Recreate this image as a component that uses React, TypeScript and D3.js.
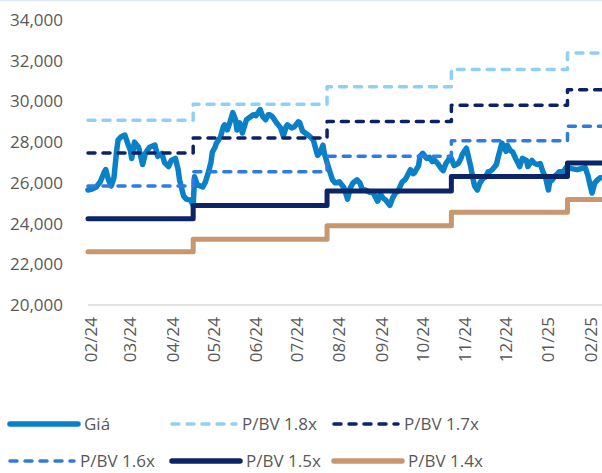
import React from "react";
import * as d3 from "d3";

const W = 602;
const H = 473;

// y axis ticks
const yTicks = [20000, 22000, 24000, 26000, 28000, 30000, 32000, 34000];

// monthly tick labels on the x axis
const monthTicks = [
  "2024-02-01", "2024-03-01", "2024-04-01", "2024-05-01", "2024-06-01", "2024-07-01",
  "2024-08-01", "2024-09-01", "2024-10-01", "2024-11-01", "2024-12-01", "2025-01-01", "2025-02-01",
];

// dates where book value (and so the P/BV bands) changes
const bandDates = ["2024-01-30", "2024-04-16", "2024-07-23", "2024-10-22", "2025-01-15"];
const bandEnd = "2025-02-10";

const pbv18 = [29079, 29862, 30726, 31572, 32373];
const pbv17 = [27464, 28203, 29019, 29818, 30575];
const pbv16 = [25848, 26544, 27312, 28064, 28776];
const pbv15 = [24233, 24885, 25605, 26310, 26978];
const pbv14 = [22617, 23226, 23898, 24556, 25179];

// closing price (Giá)
const price: [string, number][] = [
  ["2024-01-30", 25650], ["2024-02-02", 25700], ["2024-02-05", 25800], ["2024-02-08", 26050],
  ["2024-02-11", 26550], ["2024-02-12", 26650], ["2024-02-14", 26150], ["2024-02-16", 25850],
  ["2024-02-18", 26250], ["2024-02-20", 27600], ["2024-02-21", 28100], ["2024-02-23", 28250],
  ["2024-02-26", 28350], ["2024-02-28", 27950], ["2024-03-01", 27600], ["2024-03-02", 27200],
  ["2024-03-04", 28000], ["2024-03-07", 27750], ["2024-03-10", 26900], ["2024-03-12", 27450],
  ["2024-03-15", 27750], ["2024-03-19", 27850], ["2024-03-21", 27300], ["2024-03-24", 27450],
  ["2024-03-26", 27000], ["2024-03-29", 26800], ["2024-03-31", 27100], ["2024-04-03", 27200],
  ["2024-04-05", 26650], ["2024-04-06", 26150], ["2024-04-09", 25350], ["2024-04-11", 25200],
  ["2024-04-14", 25150], ["2024-04-16", 24900], ["2024-04-17", 26300], ["2024-04-19", 25900],
  ["2024-04-21", 25850], ["2024-04-23", 25800], ["2024-04-25", 26050], ["2024-04-27", 26500],
  ["2024-04-29", 27000], ["2024-04-30", 27500], ["2024-05-02", 27750], ["2024-05-03", 27950],
  ["2024-05-06", 28250], ["2024-05-08", 28750], ["2024-05-09", 28850], ["2024-05-11", 28600],
  ["2024-05-13", 29000], ["2024-05-15", 29450], ["2024-05-17", 29100], ["2024-05-18", 28600],
  ["2024-05-20", 28950], ["2024-05-22", 28450], ["2024-05-25", 29100], ["2024-05-28", 29250],
  ["2024-05-30", 29350], ["2024-06-01", 29300], ["2024-06-04", 29600], ["2024-06-06", 29250],
  ["2024-06-08", 29100], ["2024-06-10", 29350], ["2024-06-11", 29350], ["2024-06-13", 29250],
  ["2024-06-16", 28950], ["2024-06-19", 28700], ["2024-06-21", 28300], ["2024-06-23", 28750],
  ["2024-06-24", 28850], ["2024-06-27", 28700], ["2024-06-29", 28750], ["2024-07-02", 29000],
  ["2024-07-03", 28950], ["2024-07-05", 28550], ["2024-07-08", 28400], ["2024-07-10", 28300],
  ["2024-07-13", 28100], ["2024-07-14", 27850], ["2024-07-16", 27350], ["2024-07-18", 27500],
  ["2024-07-20", 27850], ["2024-07-21", 27450], ["2024-07-23", 27000], ["2024-07-25", 26550],
  ["2024-07-27", 26150], ["2024-07-29", 26000], ["2024-07-30", 26000], ["2024-08-01", 26050],
  ["2024-08-04", 25800], ["2024-08-05", 25650], ["2024-08-07", 25200], ["2024-08-09", 25750],
  ["2024-08-11", 26000], ["2024-08-14", 26150], ["2024-08-16", 26000], ["2024-08-18", 25650],
  ["2024-08-20", 25650], ["2024-08-23", 25550], ["2024-08-26", 25500], ["2024-08-27", 25350],
  ["2024-08-29", 25100], ["2024-08-31", 25450], ["2024-09-02", 25250], ["2024-09-04", 25150],
  ["2024-09-07", 24900], ["2024-09-09", 25250], ["2024-09-11", 25500], ["2024-09-13", 25600],
  ["2024-09-16", 26050], ["2024-09-18", 26150], ["2024-09-19", 26250], ["2024-09-22", 26650],
  ["2024-09-24", 26450], ["2024-09-25", 26500], ["2024-09-28", 26850], ["2024-09-29", 27300],
  ["2024-10-01", 27450], ["2024-10-04", 27200], ["2024-10-06", 27250], ["2024-10-08", 27050],
  ["2024-10-10", 27100], ["2024-10-12", 26950], ["2024-10-14", 26750], ["2024-10-16", 26600],
  ["2024-10-18", 26950], ["2024-10-19", 27050], ["2024-10-21", 27250], ["2024-10-22", 27200],
  ["2024-10-24", 26850], ["2024-10-27", 26950], ["2024-10-29", 27200], ["2024-10-30", 27400],
  ["2024-11-02", 27700], ["2024-11-05", 26850], ["2024-11-07", 26150], ["2024-11-08", 25850],
  ["2024-11-10", 25650], ["2024-11-12", 26000], ["2024-11-14", 26200], ["2024-11-16", 26300],
  ["2024-11-18", 26550], ["2024-11-19", 26550], ["2024-11-21", 26650], ["2024-11-24", 26900],
  ["2024-11-25", 27200], ["2024-11-27", 27700], ["2024-11-28", 27950], ["2024-11-30", 27700],
  ["2024-12-01", 27550], ["2024-12-02", 27850], ["2024-12-04", 27600], ["2024-12-06", 27500],
  ["2024-12-08", 27200], ["2024-12-10", 26950], ["2024-12-11", 26800], ["2024-12-13", 27200],
  ["2024-12-16", 27100], ["2024-12-17", 26800], ["2024-12-20", 27100], ["2024-12-22", 26950],
  ["2024-12-24", 26900], ["2024-12-26", 26950], ["2024-12-28", 26550], ["2024-12-30", 26250],
  ["2025-01-01", 25650], ["2025-01-02", 26050], ["2025-01-04", 26150], ["2025-01-06", 26350],
  ["2025-01-07", 26400], ["2025-01-09", 26550], ["2025-01-12", 26550], ["2025-01-14", 26750],
  ["2025-01-15", 26750], ["2025-01-18", 26700], ["2025-01-22", 26650], ["2025-01-25", 26700],
  ["2025-01-28", 26750], ["2025-01-30", 26350], ["2025-01-31", 26050], ["2025-02-02", 25500],
  ["2025-02-04", 26000], ["2025-02-06", 26150], ["2025-02-08", 26250],
];

const parse = d3.timeParse("%Y-%m-%d");

const bands = [
  { name: "P/BV 1.8x", values: pbv18, color: "#90d0f4", width: 3.5, dash: "7,8" },
  { name: "P/BV 1.7x", values: pbv17, color: "#0c2266", width: 3.5, dash: "7,8" },
  { name: "P/BV 1.6x", values: pbv16, color: "#2f7be0", width: 3.5, dash: "7,8" },
  { name: "P/BV 1.5x", values: pbv15, color: "#0c2468", width: 5, dash: null },
  { name: "P/BV 1.4x", values: pbv14, color: "#c8976e", width: 5, dash: null },
];

const priceColor = "#0a80c6";

export default function App() {
  const x = d3
    .scaleTime()
    .domain([parse("2024-01-30")!, parse("2025-02-10")!])
    .range([88, 603]);
  const y = d3.scaleLinear().domain([20000, 34000]).range([305, 20]);

  const priceLine = d3
    .line<[string, number]>()
    .x((d) => x(parse(d[0])!))
    .y((d) => y(d[1]));

  const stepLine = d3
    .line<{ date: Date; v: number }>()
    .curve(d3.curveStepAfter)
    .x((d) => x(d.date))
    .y((d) => y(d.v));

  const bandPath = (vals: number[]) => {
    const pts = bandDates.map((d, i) => ({ date: parse(d)!, v: vals[i] }));
    pts.push({ date: parse(bandEnd)!, v: vals[vals.length - 1] });
    return stepLine(pts) || "";
  };

  const textColor = "#595959";
  const font = "'Open Sans', 'Noto Sans', sans-serif";

  // legend: 3 columns x 2 rows
  const legendItems = [
    { name: "Giá", color: priceColor, width: 5.5, dash: null as string | null },
    ...bands.map((b) => ({ name: b.name, color: b.color, width: b.dash ? 3.5 : 5.5, dash: b.dash })),
  ];
  const colX = [8, 170, 332];
  const rowY = [424, 461];

  return (
    <svg
      width={W}
      height={H}
      style={{ position: "absolute", left: 0, top: 0, background: "#fff" }}
      fontFamily={font}
    >
      <rect x={0} y={0} width={W} height={H} fill="#fff" />
      <line x1={0} x2={W} y1={0.5} y2={0.5} stroke="#dfe9f3" strokeWidth={1.5} />

      {/* y axis labels */}
      {yTicks.map((t) => (
        <text key={t} x={63} y={y(t)} dy="0.35em" textAnchor="end" fontSize={17} fill={textColor}>
          {d3.format(",")(t)}
        </text>
      ))}

      {/* baseline */}
      <line x1={88} x2={W} y1={y(20000)} y2={y(20000)} stroke="#d9d9d9" strokeWidth={1.5} />

      {/* x axis labels */}
      {monthTicks.map((m) => {
        const px = x(parse(m)!);
        return (
          <text
            key={m}
            transform={`translate(${px},317) rotate(-90)`}
            dy="0.35em"
            textAnchor="end"
            fontSize={17}
            fill={textColor}
          >
            {d3.timeFormat("%m/%y")(parse(m)!)}
          </text>
        );
      })}

      <defs>
        <clipPath id="plot">
          <rect x={85} y={0} width={W - 85} height={310} />
        </clipPath>
      </defs>

      <g clipPath="url(#plot)">
        <path
          d={priceLine(price) || ""}
          fill="none"
          stroke={priceColor}
          strokeWidth={5.5}
          strokeLinejoin="round"
          strokeLinecap="round"
        />
        {bands.map((b) => (
          <path
            key={b.name}
            d={bandPath(b.values)}
            fill="none"
            stroke={b.color}
            strokeWidth={b.width}
            strokeDasharray={b.dash || undefined}
            strokeLinecap="round"
            strokeLinejoin="round"
          />
        ))}
      </g>

      {/* legend */}
      {legendItems.map((it, i) => {
        const cx = colX[i % 3];
        const cy = rowY[Math.floor(i / 3)];
        const len = it.dash ? 66 : 70;
        return (
          <g key={it.name}>
            <line
              x1={cx + 2}
              x2={cx + len}
              y1={cy}
              y2={cy}
              stroke={it.color}
              strokeWidth={it.width}
              strokeDasharray={it.dash || undefined}
              strokeLinecap="round"
            />
            <text x={cx + len + 6} y={cy} dy="0.35em" fontSize={17} fill={textColor}>
              {it.name}
            </text>
          </g>
        );
      })}
    </svg>
  );
}
